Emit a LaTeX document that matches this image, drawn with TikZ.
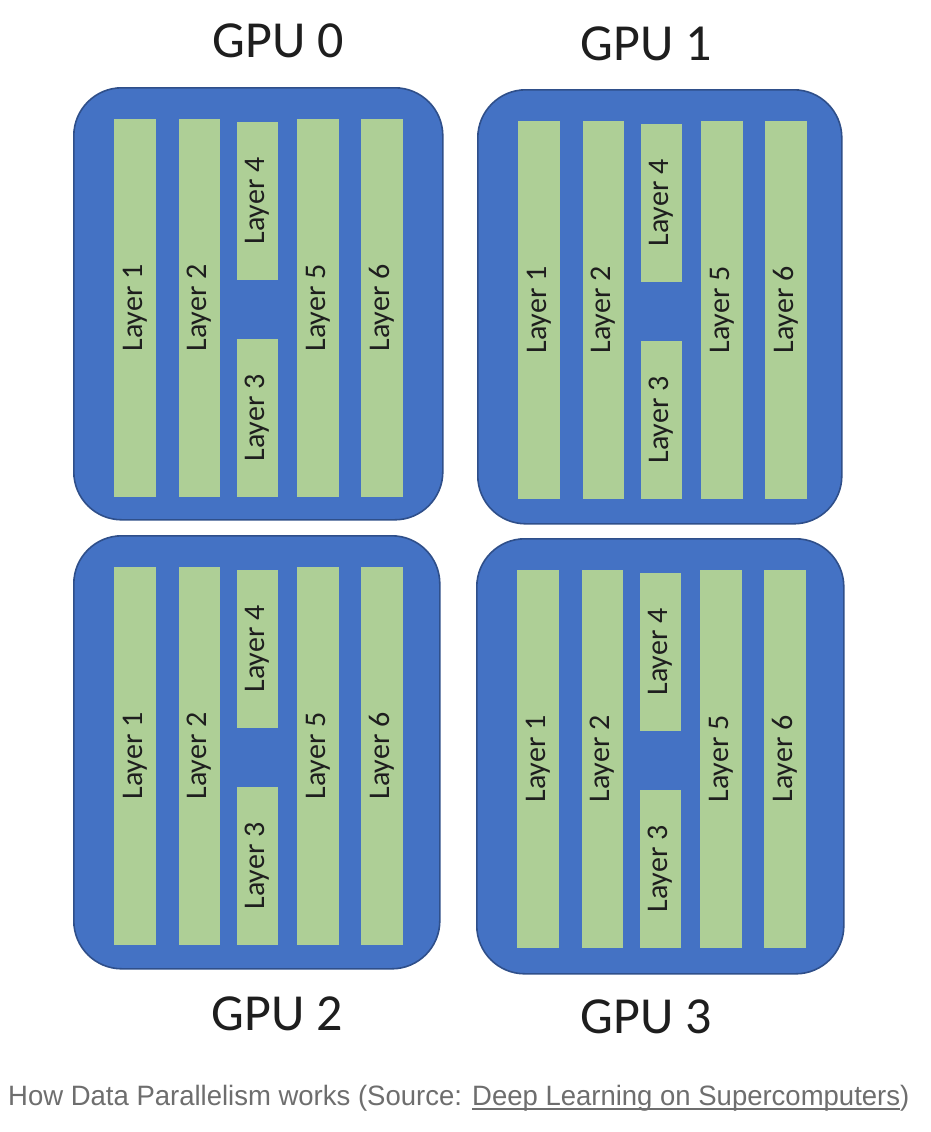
\documentclass[tikz,border=0pt]{standalone}
\usepackage{fontspec}
\setmainfont{Carlito}
\newfontfamily\capfont{Liberation Sans}
\definecolor{boxblue}{HTML}{4472C4}
\definecolor{boxline}{HTML}{2F4F8A}
\definecolor{bargreen}{HTML}{AECF96}
\definecolor{textdark}{HTML}{1E1E1E}
\definecolor{capgray}{HTML}{6E6E6E}
\newcommand\myul[1]{\setbox0\hbox{#1}\rlap{\color{capgray}\rule[-5pt]{\wd0}{1.8pt}}\box0}
\newcommand\gpuunit[5]{%
  \node[gpubox, minimum width=#4pt, minimum height=#5pt, anchor=north west] (#1) at (#2,#3) {};
  \begin{scope}[shift={(#2,#3)}]
    \node[layerbar, minimum width=378pt, minimum height=42pt] (#1l1) at (62,221) {Layer 1};
    \node[layerbar, minimum width=378pt, minimum height=41pt] (#1l2) at (126.5,221) {Layer 2};
    \node[layerbar, minimum width=158pt, minimum height=41pt] (#1l4) at (184.5,114) {Layer 4};
    \node[layerbar, minimum width=158pt, minimum height=41pt] (#1l3) at (184.5,331) {Layer 3};
    \node[layerbar, minimum width=378pt, minimum height=42pt] (#1l5) at (245,221) {Layer 5};
    \node[layerbar, minimum width=378pt, minimum height=42pt] (#1l6) at (309,221) {Layer 6};
  \end{scope}}
\begin{document}
\begin{tikzpicture}[x=1pt,y=-1pt,
  gpubox/.style={draw=boxline, line width=1.6pt, fill=boxblue, rounded corners=48pt, inner sep=0pt},
  layerbar/.style={fill=bargreen, draw=none, rotate=90, inner sep=0pt, text=textdark,
    font=\fontsize{30}{36}\selectfont},
  gputitle/.style={anchor=base, text=textdark, font=\fontsize{52}{60}\selectfont},
  capstyle/.style={anchor=base west, inner sep=0pt, text=capgray, font=\capfont\fontsize{28}{34}\selectfont}]
\fill[white] (0,0) rectangle (930,1132);
\useasboundingbox (0,0) rectangle (930,1132);
\gpuunit{gA}{73}{87}{369}{432}
\gpuunit{gB}{477}{89}{364}{434}
\gpuunit{gC}{73}{535}{366}{433}
\gpuunit{gD}{476}{538}{367}{435}
\node[gputitle] (tA) at (278,58) {GPU 0};
\node[gputitle] (tB) at (646,60) {GPU 1};
\node[gputitle] (tC) at (277,1030) {GPU 2};
\node[gputitle] (tD) at (646,1033) {GPU 3};
\node[capstyle] (cap) at (8,1105) {\scalebox{0.982}[1]{How Data Parallelism works (Source: \myul{Deep Learning on Supercomputers})}};
\end{tikzpicture}
\end{document}
